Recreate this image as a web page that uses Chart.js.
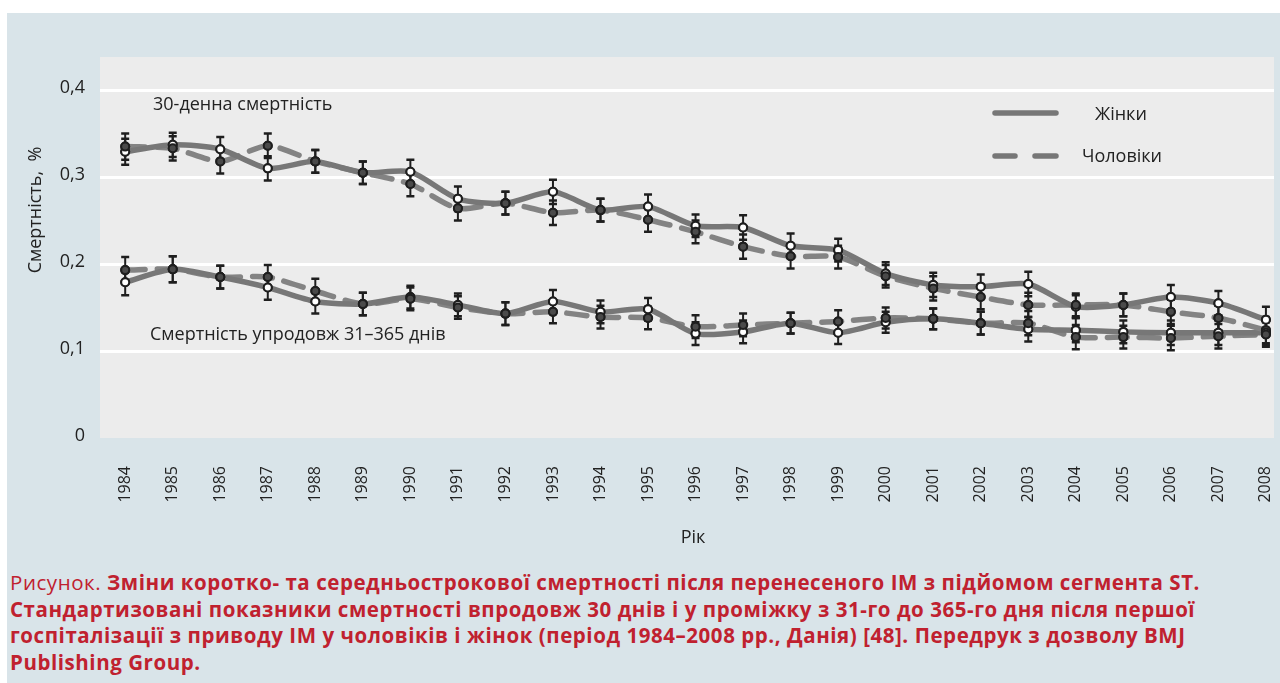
<!DOCTYPE html>
<html>
<head>
<meta charset="utf-8">
<script src="https://cdn.jsdelivr.net/npm/chart.js@4/dist/chart.umd.min.js"></script>
<style>
  body { margin: 0; background: #fff; width: 1280px; height: 683px; overflow: hidden; position: relative; font-family: "Open Sans", sans-serif; }
  #fon { position: absolute; left: 7px; top: 13px; width: 1273px; height: 670px; background: #d9e4e9; }
  #grafik { position: absolute; left: 0; top: 0; }
  #pidpys { position: absolute; left: 10px; top: 569px; white-space: nowrap; font-size: 20.5px; line-height: 26.5px; color: #c0212f; font-weight: 700; letter-spacing: 0.55px; }
  #pidpys span { font-weight: 400; }
</style>
</head>
<body>
<div id="fon"></div>
<canvas id="grafik" width="1280" height="560"></canvas>
<div id="pidpys"><span>Рисунок.</span> Зміни коротко- та середньострокової смертності після перенесеного ІМ з підйомом сегмента ST.<br>Стандартизовані показники смертності впродовж 30 днів і у проміжку з 31-го до 365-го дня після першої<br>госпіталізації з приводу ІМ у чоловіків і жінок (період 1984–2008 рр., Данія) [48]. Передрук з дозволу BMJ<br>Publishing Group.</div>
<script>
// роки
const roky = [1984,1985,1986,1987,1988,1989,1990,1991,1992,1993,1994,1995,1996,1997,1998,1999,2000,2001,2002,2003,2004,2005,2006,2007,2008];
const tykyY = [0, 0.1, 0.2, 0.3, 0.4];

// 30-денна смертність
const zhinky30 = [0.329,0.337,0.332,0.310,0.318,0.305,0.306,0.275,0.270,0.283,0.262,0.266,0.244,0.242,0.221,0.216,0.189,0.176,0.174,0.177,0.151,0.153,0.162,0.155,0.136];
const choloviky30 = [0.335,0.333,0.318,0.336,0.318,0.305,0.292,0.264,0.270,0.259,0.262,0.251,0.237,0.220,0.209,0.208,0.186,0.172,0.162,0.153,0.153,0.153,0.145,0.138,0.124];
// смертність упродовж 31–365 днів
const zhinky365 = [0.179,0.194,0.185,0.173,0.157,0.154,0.162,0.153,0.143,0.157,0.145,0.148,0.120,0.122,0.132,0.121,0.133,0.137,0.132,0.125,0.124,0.122,0.121,0.121,0.121];
const choloviky365 = [0.193,0.194,0.185,0.185,0.169,0.154,0.160,0.150,0.143,0.145,0.139,0.138,0.128,0.130,0.132,0.134,0.138,0.137,0.132,0.132,0.116,0.116,0.115,0.117,0.119];

// половина довірчого інтервалу (на око)
const pohybka30 = [0.015,0.014,0.014,0.014,0.013,0.013,0.014,0.014,0.013,0.014,0.013,0.014,0.013,0.014,0.014,0.013,0.013,0.014,0.014,0.014,0.013,0.013,0.014,0.014,0.015];
const pohybka365 = [0.015,0.015,0.013,0.014,0.014,0.013,0.013,0.013,0.013,0.013,0.013,0.013,0.013,0.013,0.012,0.013,0.012,0.012,0.013,0.014,0.014,0.013,0.014,0.014,0.014];

const tochky = (ys) => roky.map((r, i) => ({ x: r, y: ys[i] }));

const suc = {
    borderColor: '#777777', borderWidth: 5.5, tension: 0.25, fill: false,
    pointRadius: 4, pointBorderWidth: 2, pointBorderColor: '#1e1e1e', pointBackgroundColor: '#ffffff',
};
const shtrykh = {
    borderColor: '#838383', borderWidth: 5.5, tension: 0.25, fill: false, borderDash: [20, 12], borderCapStyle: 'round',
    pointRadius: 4, pointBorderWidth: 2, pointBorderColor: '#1e1e1e', pointBackgroundColor: '#4a4a4a',
};

// фон області графіка
const fonPlugin = {
    id: 'fonPlugin',
    beforeDraw(chart) {
        const { ctx, chartArea: a } = chart;
        ctx.save();
        ctx.fillStyle = '#ececec';
        ctx.fillRect(a.left, a.top, a.right - a.left, a.bottom - a.top);
        ctx.restore();
    }
};

// вуса похибок + перемальовка точок зверху
const vusa = {
    id: 'vusa',
    afterDatasetsDraw(chart) {
        const { ctx } = chart;
        const sy = chart.scales.y;
        ctx.save();
        ctx.strokeStyle = '#1e1e1e';
        chart.data.datasets.forEach((ds, di) => {
            const meta = chart.getDatasetMeta(di);
            meta.data.forEach((p, i) => {
                const v = ds.data[i].y, e = ds.pohybka[i];
                const y1 = sy.getPixelForValue(v + e), y2 = sy.getPixelForValue(v - e);
                ctx.lineWidth = 2;
                ctx.beginPath(); ctx.moveTo(p.x, y1); ctx.lineTo(p.x, y2); ctx.stroke();
                ctx.lineWidth = 2.5;
                ctx.beginPath();
                ctx.moveTo(p.x - 4, y1); ctx.lineTo(p.x + 4, y1);
                ctx.moveTo(p.x - 4, y2); ctx.lineTo(p.x + 4, y2);
                ctx.stroke();
            });
        });
        chart.data.datasets.forEach((ds, di) => {
            chart.getDatasetMeta(di).data.forEach(p => p.draw(ctx, chart.chartArea));
        });
        ctx.restore();
    }
};

// підписи, легенда, назви осей
const napysy = {
    id: 'napysy',
    afterDraw(chart) {
        const { ctx } = chart;
        ctx.save();
        ctx.fillStyle = '#222';
        ctx.textBaseline = 'middle';
        ctx.font = '18px "Open Sans"';
        ctx.textAlign = 'left';
        ctx.fillText('30-денна смертність', 153, 105);
        ctx.fillText('Смертність упродовж 31–365 днів', 150, 335);
        ctx.fillText('Жінки', 1095, 115);
        ctx.fillText('Чоловіки', 1082, 157);

        // легенда
        ctx.strokeStyle = '#777777';
        ctx.lineWidth = 5.5;
        ctx.lineCap = 'round';
        ctx.beginPath(); ctx.moveTo(995, 113); ctx.lineTo(1056, 113); ctx.stroke();
        ctx.beginPath();
        ctx.moveTo(995, 156); ctx.lineTo(1015, 156);
        ctx.moveTo(1035, 156); ctx.lineTo(1056, 156);
        ctx.stroke();

        ctx.textAlign = 'center';
        ctx.fillText('Рік', 693, 538);
        ctx.translate(36, 210);
        ctx.rotate(-Math.PI / 2);
        ctx.fillText('Смертність,  %', 0, 0);
        ctx.restore();
    }
};

const koma = (v) => v === 0 ? '0' : v.toFixed(1).replace('.', ',');

new Chart(document.getElementById('grafik'), {
    type: 'line',
    data: {
        datasets: [
            { label: 'Жінки', data: tochky(zhinky30), pohybka: pohybka30, ...suc },
            { label: 'Чоловіки', data: tochky(choloviky30), pohybka: pohybka30, ...shtrykh },
            { label: 'Жінки', data: tochky(zhinky365), pohybka: pohybka365, ...suc },
            { label: 'Чоловіки', data: tochky(choloviky365), pohybka: pohybka365, ...shtrykh },
        ],
    },
    options: {
        responsive: false,
        animation: false,
        layout: { padding: { top: 57, right: 2, left: 0, bottom: 0 } },
        plugins: { legend: { display: false }, tooltip: { enabled: false } },
        scales: {
            x: {
                type: 'linear', min: 1983.47, max: 2008.17,
                afterBuildTicks: (s) => { s.ticks = roky.map(r => ({ value: r })); },
                afterFit: (s) => { s.height = 122; s.paddingLeft = 0; s.paddingRight = 0; },
                grid: { display: false },
                border: { display: false },
                ticks: {
                    minRotation: 90, maxRotation: 90, padding: 20,
                    color: '#222', font: { family: 'Open Sans', size: 16 },
                    callback: (v) => String(v),
                },
            },
            y: {
                min: 0, max: 0.438,
                afterBuildTicks: (s) => { s.ticks = tykyY.map(v => ({ value: v })); },
                afterFit: (s) => { s.width = 100; s.paddingTop = 0; s.paddingBottom = 0; },
                grid: {
                    color: (c) => c.tick && c.tick.value === 0 ? 'rgba(0,0,0,0)' : '#ffffff',
                    lineWidth: 3, drawTicks: false,
                },
                border: { display: false },
                ticks: {
                    padding: 15, labelOffset: -2,
                    color: '#222', font: { family: 'Open Sans', size: 18 },
                    callback: koma,
                },
            },
        },
    },
    plugins: [fonPlugin, vusa, napysy],
});
</script>
</body>
</html>
